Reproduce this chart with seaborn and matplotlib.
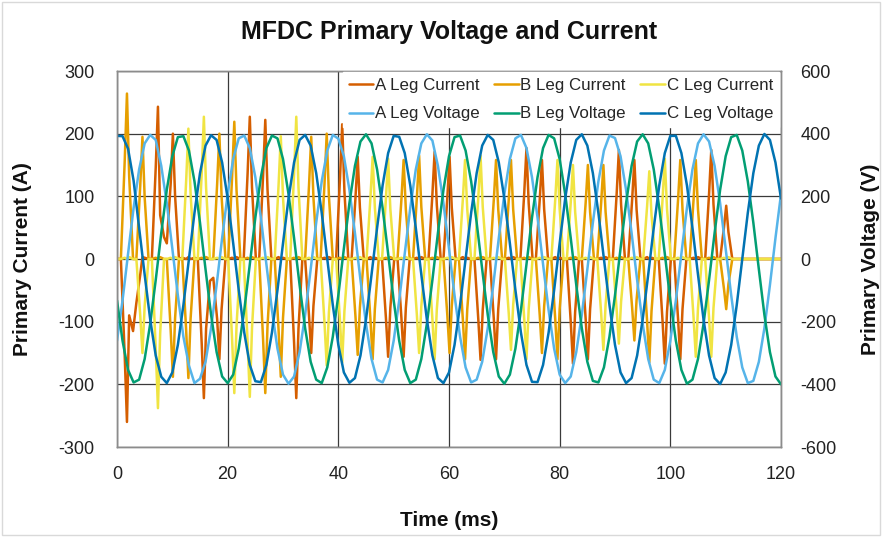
import matplotlib
matplotlib.use("Agg")
import matplotlib.pyplot as plt
from matplotlib.lines import Line2D
from matplotlib.patches import Rectangle
import numpy as np
import pandas as pd
import seaborn as sns

# ---------------- data ----------------
# Voltage samples (V), 1 ms apart
time_v = list(range(0, 121))
volt_a = [-261, -132, 17, 163, 286, 369, 396, 380, 297, 178, 33, -116, -248, -340, -396, -382, -328, -221, -83, 67,
          207, 319, 385, 394, 354, 261, 132, -17, -163, -286, -369, -398, -375, -297, -178, -33, 116, 248, 346, 396,
          384, 328, 221, 83, -67, -207, -319, -385, -394, -354,
          -261, -132, 17, 163, 286, 369, 398, 378, 297, 178, 33, -116, -248, -346, -394, -385, -328, -221, -83, 67,
          207, 319, 385, 396, 354, 261, 132, -17, -163, -286, -369, -396, -375, -297, -178, -33, 116, 248, 346, 394,
          386, 328, 221, 83, -67, -207, -319, -385, -396, -354,
          -261, -132, 17, 163, 286, 369, 398, 375, 297, 178, 33, -116, -248, -346, -396, -389, -328, -221, -83, 67, 207]
volt_b = [-132, -261, -354, -394, -385, -319, -207, -67, 83, 221, 328, 389, 392, 346, 248, 116, -33, -178, -297, -375,
          -396, -369, -286, -163, -17, 132, 261, 354, 394, 385, 319, 207, 67, -83, -221, -328, -385, -396, -346, -248,
          -116, 33, 178, 297, 375, 398, 369, 286, 163, 17,
          -132, -261, -354, -396, -385, -319, -207, -67, 83, 221, 328, 389, 394, 346, 248, 116, -33, -178, -297, -375,
          -398, -369, -286, -163, -17, 132, 261, 354, 396, 385, 319, 207, 67, -83, -221, -328, -389, -394, -346, -248,
          -116, 33, 178, 297, 375, 398, 369, 286, 163, 17,
          -132, -261, -354, -398, -385, -319, -207, -67, 83, 221, 328, 389, 396, 346, 248, 116, -33, -178, -297, -375, -400]
volt_c = [393, 392, 352, 250, 99, -50, -193, -308, -376, -396, -362, -274, -147, 0, 147, 274, 362, 395, 380, 308,
          193, 50, -99, -235, -338, -390, -393, -338, -235, -99, 50, 193, 308, 380, 396, 362, 274, 147, 0, -147,
          -274, -362, -395, -380, -308, -193, -50, 99, 235, 338,
          393, 390, 338, 235, 99, -50, -193, -308, -380, -396, -362, -274, -147, 0, 147, 274, 362, 396, 380, 308,
          193, 50, -99, -235, -338, -392, -393, -338, -235, -99, 50, 193, 308, 380, 398, 362, 274, 147, 0, -147,
          -274, -362, -396, -380, -308, -193, -50, 99, 235, 338,
          393, 393, 338, 235, 99, -50, -193, -308, -380, -399, -362, -274, -147, 0, 147, 274, 362, 399, 380, 308, 193]

# Current samples (A) around each 360 Hz conduction pulse
time_i = [0.0,
          0.7, 1.4, 1.8, 2.2, 2.9,        3.5, 4.2, 4.6, 5.0, 5.7,        6.3, 7.0, 7.4, 7.8, 8.5,
          9.0, 9.7, 10.1, 10.5, 11.2,     11.8, 12.5, 12.9, 13.3, 14.0,   14.6, 15.3, 15.7, 16.1, 16.8,
          17.4, 18.1, 18.5, 18.9, 19.6,   20.1, 20.8, 21.2, 21.6, 22.3,   22.9, 23.6, 24.0, 24.4, 25.1,
          25.7, 26.4, 26.8, 27.2, 27.9,   28.5, 29.2, 29.6, 30.0, 30.7,   31.3, 32.0, 32.4, 32.8, 33.5,
          34.0, 34.7, 35.1, 35.5, 36.2,   36.8, 37.5, 37.9, 38.3, 39.0,   39.6, 40.3, 40.7, 41.1, 41.8,
          42.4, 43.1, 43.5, 43.9, 44.6,   45.1, 45.8, 46.2, 46.6, 47.3,   47.9, 48.6, 49.0, 49.4, 50.1,
          50.7, 51.4, 51.8, 52.2, 52.9,   53.5, 54.2, 54.6, 55.0, 55.7,   56.3, 57.0, 57.4, 57.8, 58.5,
          59.0, 59.7, 60.1, 60.5, 61.2,   61.8, 62.5, 62.9, 63.3, 64.0,   64.6, 65.3, 65.7, 66.1, 66.8,
          67.4, 68.1, 68.5, 68.9, 69.6,   70.1, 70.8, 71.2, 71.6, 72.3,   72.9, 73.6, 74.0, 74.4, 75.1,
          75.7, 76.4, 76.8, 77.2, 77.9,   78.5, 79.2, 79.6, 80.0, 80.7,   81.3, 82.0, 82.4, 82.8, 83.5,
          84.0, 84.7, 85.1, 85.5, 86.2,   86.8, 87.5, 87.9, 88.3, 89.0,   89.6, 90.3, 90.7, 91.1, 91.8,
          92.4, 93.1, 93.5, 93.9, 94.6,   95.1, 95.8, 96.2, 96.6, 97.3,   97.9, 98.6, 99.0, 99.4, 100.1,
          100.7, 101.4, 101.8, 102.2, 102.9, 103.5, 104.2, 104.6, 105.0, 105.7,
          106.3, 107.0, 107.4, 107.8, 108.5, 109.0, 109.7, 110.1, 110.5, 111.2,
          120.0]
cur_a = [0,
         0, -156, -260, -90, -115,   -70, -25, 3, 2, 0,        0, 146, 243, 70, 35,
         25, 120, 200, 100, 0,       2, 0, 3, 0, 2,            0, -133, -222, -111, -35,
         -30, -96, -160, -80, 0,     0, 2, 0, 3, 0,            0, 136, 227, 114, 0,
         0, 133, 222, 111, 0,        0, 3, 0, 2, 0,            0, -133, -222, -111, 0,
         0, -90, -150, -75, 0,       0, 2, 0, 3, 0,            0, 129, 215, 108, 0,
         0, 98, 163, 82, 0,          0, 3, 0, 2, 0,            0, -94, -156, -78, 0,
         0, -94, -156, -78, 0,       0, 2, 0, 3, 0,            0, 103, 171, 86, 0,
         0, 98, 163, 82, 0,          0, 3, 0, 2, 0,            0, -97, -161, -81, 0,
         0, -96, -160, -80, 0,       0, 2, 0, 3, 0,            0, 106, 177, 89, 0,
         0, 95, 158, 79, 0,          0, 3, 0, 2, 0,            0, -100, -167, -84, 0,
         0, -96, -160, -80, 0,       0, 2, 0, 3, 0,            0, 104, 174, 87, 0,
         0, 95, 158, 79, 0,          0, 3, 0, 2, 0,            0, -100, -167, -84, 0,
         0, -96, -160, -80, 0,       0, 2, 0, 3, 0,
         0, 104, 174, 87, 0,         0, 51, 85, 43, 0,
         0]
cur_b = [0,
         0, 158, 264, 132, 0,        0, 117, 195, 98, 0,       0, 2, 0, 3, 0,
         0, -113, -188, -94, 0,      0, -114, -190, -95, 0,    0, 2, 0, 3, 0,
         0, 120, 200, 100, 0,        0, 131, 219, 110, 0,      0, 2, 0, 3, 0,
         0, -128, -214, -107, 0,     0, -113, -188, -94, 0,    0, 2, 0, 3, 0,
         0, 117, 195, 98, 0,         0, 120, 200, 100, 0,      0, 2, 0, 3, 0,
         0, -92, -153, -77, 0,       0, -96, -160, -80, 0,     0, 2, 0, 3, 0,
         0, 95, 158, 79, 0,          0, 99, 165, 83, 0,        0, 2, 0, 3, 0,
         0, -90, -150, -75, 0,       0, -96, -160, -80, 0,     0, 2, 0, 3, 0,
         0, 95, 158, 79, 0,          0, 95, 158, 79, 0,        0, 2, 0, 3, 0,
         0, -90, -150, -75, 0,       0, -96, -160, -80, 0,     0, 2, 0, 3, 0,
         0, 90, 150, 75, 0,          0, 90, 150, 75, 0,        0, 2, 0, 3, 0,
         0, -78, -130, -65, 0,       0, -99, -165, -83, 0,     0, 2, 0, 3, 0,
         0, 95, 158, 79, 0,          0, 95, 158, 79, 0,
         0, 2, 0, 3, 0,              0, -48, -80, -40, 0,
         0]
cur_c = [0,
         0, 2, 0, 3, 0,              0, -90, -150, -75, 0,     0, -143, -238, -119, 0,
         0, 2, 0, 3, 0,              0, 125, 208, 104, 0,      0, 136, 227, 114, 0,
         0, 2, 0, 3, 0,              0, -128, -214, -107, 0,   0, -132, -220, -110, 0,
         0, 2, 0, 3, 0,              0, 118, 196, 98, 0,       0, 136, 227, 114, 0,
         0, 2, 0, 3, 0,              0, -102, -170, -85, 0,    0, -99, -165, -83, 0,
         0, 2, 0, 3, 0,              0, 98, 163, 82, 0,        0, 96, 160, 80, 0,
         0, 2, 0, 3, 0,              0, -90, -150, -75, 0,     0, -96, -160, -80, 0,
         0, 2, 0, 3, 0,              0, 95, 158, 79, 0,        0, 99, 165, 83, 0,
         0, 2, 0, 3, 0,              0, -87, -145, -73, 0,     0, -96, -160, -80, 0,
         0, 2, 0, 3, 0,              0, 95, 158, 79, 0,        0, 90, 150, 75, 0,
         0, 2, 0, 3, 0,              0, -87, -145, -73, 0,     0, -81, -135, -68, 0,
         0, 2, 0, 3, 0,              0, 84, 140, 70, 0,        0, 96, 160, 80, 0,
         0, 2, 0, 3, 0,              0, -94, -156, -78, 0,
         0, -94, -156, -78, 0,       0, 2, 0, 3, 0,
         0]

current_names = ["A Leg Current", "B Leg Current", "C Leg Current"]
voltage_names = ["A Leg Voltage", "B Leg Voltage", "C Leg Voltage"]
x_ticks = [0, 20, 40, 60, 80, 100, 120]
left_ticks = [-300, -200, -100, 0, 100, 200, 300]
right_ticks = [-600, -400, -200, 0, 200, 400, 600]

# ---------------- styling ----------------
cur_colors = dict(zip(current_names, ["#D55E00", "#E69F00", "#F0E442"]))
volt_colors = dict(zip(voltage_names, ["#56B4E9", "#029E73", "#0173B2"]))

sns.set_theme(style="white")
plt.rcParams["font.family"] = ["Liberation Sans", "DejaVu Sans"]
plt.rcParams["axes.unicode_minus"] = False

W, H = 882, 537
fig = plt.figure(figsize=(W / 100, H / 100), dpi=100)
L, R, T, B = 117, 781, 71, 447
ax = fig.add_axes([L / W, 1 - B / H, (R - L) / W, (B - T) / H])
ax2 = ax.twinx()

cur_df = pd.DataFrame({"Time": time_i, current_names[0]: cur_a,
                       current_names[1]: cur_b, current_names[2]: cur_c})
cur_long = cur_df.melt(id_vars="Time", var_name="Series", value_name="Current")
volt_df = pd.DataFrame({"Time": time_v, voltage_names[0]: volt_a,
                        voltage_names[1]: volt_b, voltage_names[2]: volt_c})
volt_long = volt_df.melt(id_vars="Time", var_name="Series", value_name="Voltage")

sns.lineplot(data=cur_long, x="Time", y="Current", hue="Series", hue_order=current_names,
             palette=cur_colors, ax=ax, linewidth=1.8, estimator=None, sort=False, legend=False)
sns.lineplot(data=volt_long, x="Time", y="Voltage", hue="Series", hue_order=voltage_names,
             palette=volt_colors, ax=ax2, linewidth=1.8, estimator=None, sort=False, legend=False)

ax.set_xlim(0, 120)
ax.set_ylim(-300, 300)
ax2.set_ylim(-600, 600)
ax.set_xticks(x_ticks)
ax.set_yticks(left_ticks)
ax2.set_yticks(right_ticks)

ax.grid(True, color="#3a3a3a", linewidth=0.9)
ax.set_axisbelow(True)
ax2.grid(False)
for a in (ax, ax2):
    for s in a.spines.values():
        s.set_color("#8c8c8c")
        s.set_linewidth(1.0)
        s.set_visible(True)

tick_fs = 13
ax.tick_params(axis="y", length=0, pad=16, labelsize=tick_fs, colors="#222222")
ax.tick_params(axis="x", length=0, pad=14, labelsize=tick_fs, colors="#222222")
ax2.tick_params(axis="y", length=0, pad=14, labelsize=tick_fs, colors="#222222")

ax.set_xlabel("Time (ms)", fontsize=15, fontweight="bold", color="#111111", va="center")
ax.xaxis.set_label_coords(0.5, (B - 521) / (B - T))
ax.set_ylabel("Primary Current (A)", fontsize=15, fontweight="bold", color="#111111",
              va="center", ha="center")
ax.yaxis.set_label_coords((22 - L) / (R - L), 0.5)
ax2.set_ylabel("Primary Voltage (V)", fontsize=15, fontweight="bold", color="#111111",
               rotation=90, va="center", ha="center")
ax2.yaxis.set_label_coords((871 - L) / (R - L), 0.5)

fig.text(449 / W, 1 - 32 / H, "MFDC Primary Voltage and Current", ha="center", va="center",
         fontsize=18, fontweight="bold", color="#111111")

handles = []
labels = []
for cn, vn in zip(current_names, voltage_names):
    handles.append(Line2D([], [], color=cur_colors[cn], lw=1.8))
    labels.append(cn)
    handles.append(Line2D([], [], color=volt_colors[vn], lw=1.8))
    labels.append(vn)
leg = ax2.legend(handles, labels, ncol=3, loc="upper right",
                 bbox_to_anchor=((779 - L) / (R - L), (B - 72) / (B - T)),
                 fontsize=12.2, frameon=True, fancybox=False, framealpha=1.0,
                 edgecolor="white", facecolor="white", handlelength=1.45,
                 handletextpad=0.1, columnspacing=0.85, labelspacing=0.8,
                 borderpad=0.35, borderaxespad=0.0)
leg.set_zorder(10)

fig.patches.append(Rectangle((0.002, 0.003), 0.996, 0.994, transform=fig.transFigure,
                             fill=False, edgecolor="#d9d9d9", linewidth=1.0))

fig.savefig("out.png", dpi=100, facecolor="white")
